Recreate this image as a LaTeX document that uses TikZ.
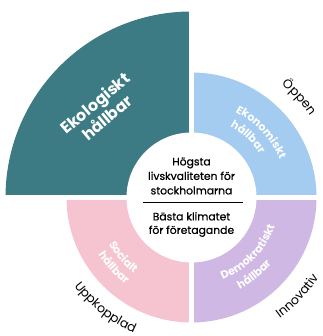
\documentclass[tikz,border=0pt]{standalone}
\usepackage{fontspec}
\setmainfont{Poppins}
\newfontfamily\hubfont[FakeBold=0.6]{Poppins}
\usetikzlibrary{positioning,decorations.text}
\definecolor{ekoteal}{RGB}{60,123,132}
\definecolor{ekoblue}{RGB}{164,203,240}
\definecolor{socpink}{RGB}{245,196,208}
\definecolor{dempurple}{RGB}{207,184,227}
\newcommand\ringfont{\bfseries\fontsize{11}{12}\selectfont}
\newcommand\outerfont{\fontsize{12.5}{14}\selectfont}
\tikzset{
    biglabel/.style = {align=center, text=white, font=\bfseries\fontsize{16}{18.5}\selectfont},
    hubtext/.style = {align=center, text=black, font=\hubfont\fontsize{10.8}{14.5}\selectfont},
    gapline/.style = {white, line width=5pt},
    arcword/.style 2 args = {decorate, decoration={text along path, text align=center, text color=#1, text={#2}}}
}

\begin{document}
\begin{tikzpicture}[x=1pt,y=1pt]
  \useasboundingbox (0,0) rectangle (322,336);
  \coordinate (c) at (191.5,138.5);
  % quadrants
  \fill[ekoteal] (c) -- ++(90:186) arc[start angle=90, end angle=180, radius=186] -- cycle;
  \fill[ekoblue] (c) -- ++(0:125) arc[start angle=0, end angle=90, radius=125] -- cycle;
  \fill[dempurple] (c) -- ++(0:125) arc[start angle=0, end angle=-90, radius=125] -- cycle;
  \fill[socpink] (c) -- ++(180:125) arc[start angle=180, end angle=270, radius=125] -- cycle;
  \draw[gapline] (c) -- ++(0,187);
  \draw[gapline] (c) -- ++(-187,0);
  \draw[gapline] (c) -- ++(0,-126);
  \draw[gapline] (c) -- ++(126,0);
  \node[circle, fill=white, minimum size=130pt] (hub) at (c) {};
  % ring texts
  \node[biglabel, rotate=40] (eko) at (101,226) {Ekologiskt\\hållbar};
  \path[arcword={white}{|\ringfont|Ekonomiskt}] ([shift={(88:96)}]c) arc[start angle=88, end angle=-2, radius=96];
  \path[arcword={white}{|\ringfont|hållbar}] ([shift={(92:81)}]c) arc[start angle=92, end angle=2, radius=81];
  \path[arcword={white}{|\ringfont|Demokratiskt}] ([shift={(-92:88)}]c) arc[start angle=-92, end angle=4, radius=88];
  \path[arcword={white}{|\ringfont|hållbar}] ([shift={(-96:104)}]c) arc[start angle=-96, end angle=-6, radius=104];
  \path[arcword={white}{|\ringfont|Socialt}] ([shift={(176:95)}]c) arc[start angle=176, end angle=266, radius=95];
  \path[arcword={white}{|\ringfont|hållbar}] ([shift={(177:109)}]c) arc[start angle=177, end angle=267, radius=109];
  % outer words
  \path[arcword={black}{|\outerfont|Öppen}] ([shift={(73:144)}]c) arc[start angle=73, end angle=13, radius=144];
  \path[arcword={black}{|\outerfont|Innovativ}] ([shift={(-73:150)}]c) arc[start angle=-73, end angle=-13, radius=150];
  \path[arcword={black}{|\outerfont|Uppkopplad}] ([shift={(202:147)}]c) arc[start angle=202, end angle=262, radius=147];
  % centre
  \node[hubtext] (goal) at ([yshift=21.5pt]hub.center) {Högsta\\livskvaliteten för\\stockholmarna};
  \node[hubtext, font=\hubfont\fontsize{10.8}{13.5}\selectfont] (climate) at ([yshift=-27pt]hub.center) {Bästa klimatet\\för företagande};
  \coordinate (divl) at ([shift={(-49pt,-5pt)}]hub.center);
  \coordinate (divr) at ([shift={(51pt,-5pt)}]hub.center);
  \draw[line width=1.2pt] (divl) -- (divr);
\end{tikzpicture}
\end{document}
